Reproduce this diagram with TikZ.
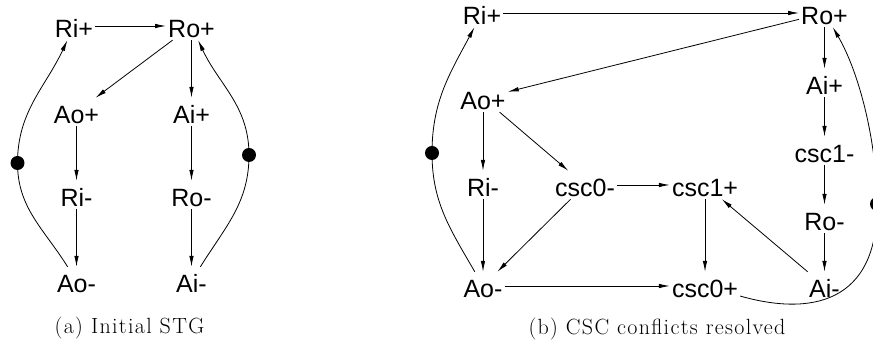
\documentclass[tikz,border=0pt]{standalone}
\usepackage{fontspec}
\newfontfamily\nodefont{Liberation Sans}
\newfontfamily\capfont[LetterSpace=6]{Latin Modern Roman}
\usetikzlibrary{arrows.meta}
\begin{document}
\begin{tikzpicture}[x=1pt,y=1pt,
  st/.style={font=\nodefont\fontsize{25}{25}\selectfont, text height=24pt, text depth=0pt, inner xsep=2pt, inner ysep=2pt, anchor=base},
  arr/.style={-{Latex[length=11pt,width=4.5pt]}, line width=0.8pt},
  captext/.style={font=\capfont\fontsize{22}{22}\selectfont, anchor=base, inner sep=0pt},
  tok/.style={fill=black}]
\useasboundingbox (0,0) rectangle (873,344);
% ---------- panel (a)
\node[st] (ripa) at (74,306) {Ri+};
\node[st] (ropa) at (191.5,306) {Ro+};
\node[st] (aopa) at (76.5,220) {Ao+};
\node[st] (aipa) at (191.5,220) {Ai+};
\node[st] (rima) at (76.5,137) {Ri-};
\node[st] (roma) at (191.5,137) {Ro-};
\node[st] (aoma) at (76.5,51) {Ao-};
\node[st] (aima) at (191.5,51) {Ai-};
\coordinate (tokla) at (17.5,181);
\coordinate (tokra) at (249,189);
\draw[arr] (ripa) -- (ropa);
\draw[arr] (ropa) -- (aopa);
\draw[arr] (ropa.south) -- (aipa.north);
\draw[arr] (aopa.south) -- (rima.north);
\draw[arr] (rima.south) -- (aoma.north);
\draw[arr] (aipa.south) -- (roma.north);
\draw[arr] (roma.south) -- (aima.north);
\draw[arr] (aoma) to[out=122,in=-90] (tokla) to[out=90,in=-115] (ripa);
\draw[arr] (aima) to[out=58,in=-90] (tokra) to[out=90,in=-65] (ropa);
\fill[tok] (tokla) circle (7);
\fill[tok] (tokra) circle (7);
\node[captext] (capa) at (129.5,10) {(a) Initial STG};
% ---------- panel (b)
\node[st] (ripb) at (482,319) {Ri+};
\node[st] (ropb) at (824.5,319) {Ro+};
\node[st] (aopb) at (483,234) {Ao+};
\node[st] (aipb) at (824.5,249) {Ai+};
\node[st] (cscma) at (824.5,181) {csc1-};
\node[st] (rimb) at (483,147) {Ri-};
\node[st] (csczm) at (585,147) {csc0-};
\node[st] (csconep) at (705,147) {csc1+};
\node[st] (romb) at (824.5,113) {Ro-};
\node[st] (aomb) at (483,46) {Ao-};
\node[st] (csczp) at (705,46) {csc0+};
\node[st] (aimb) at (824.5,46) {Ai-};
\coordinate (toklb) at (432,191);
\coordinate (tokrb) at (877,140);
\draw[arr] (ripb) -- (ropb);
\draw[arr] (ropb) -- (aopb);
\draw[arr] (ropb.south) -- (aipb.north);
\draw[arr] (aipb.south) -- (cscma.north);
\draw[arr] (cscma.south) -- (romb.north);
\draw[arr] (romb.south) -- (aimb.north);
\draw[arr] (aopb.south) -- (rimb.north);
\draw[arr] (aopb) -- (csczm);
\draw[arr] (rimb.south) -- (aomb.north);
\draw[arr] (csczm) -- (aomb);
\draw[arr] (csczm) -- (csconep);
\draw[arr] (csconep.south) -- (csczp.north);
\draw[arr] (aimb) -- (csconep);
\draw[arr] (aomb) -- (csczp);
\draw[arr] (aomb) to[out=120,in=-90] (toklb) to[out=90,in=-118] (ripb);
\draw[arr] (csczp) .. controls (810,28) and (878,40) .. (tokrb)
                   .. controls (877,200) and (860,270) .. (ropb);
\fill[tok] (toklb) circle (7);
\fill[tok] (tokrb) circle (7);
\node[captext] (capb) at (657,9) {(b) CSC conflicts resolved};
\end{tikzpicture}
\end{document}
